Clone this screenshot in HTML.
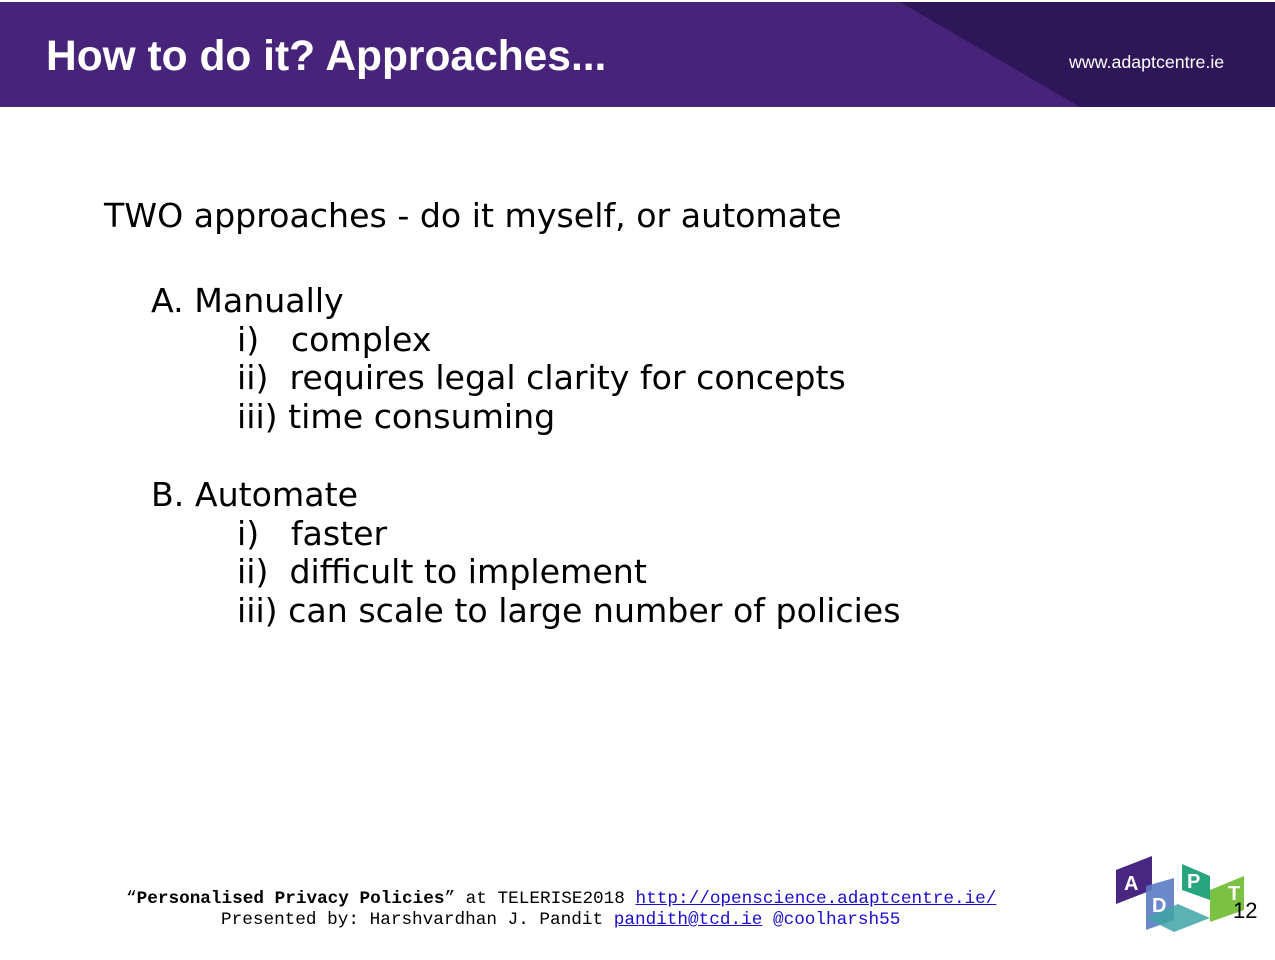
<!DOCTYPE html>
<html><head><meta charset="utf-8"><style>
body{margin:0;width:1275px;height:960px;background:#fff;position:relative;overflow:hidden;font-family:"DejaVu Sans",sans-serif}
.t{position:absolute;font-size:33.2px;color:#000;white-space:pre;line-height:1}
.f{position:absolute;font-family:"Liberation Mono",monospace;font-size:17.7px;white-space:pre;line-height:1;color:#000}
a{color:#1a0dcc;text-decoration:underline}
</style></head><body>
<div style="position:absolute;left:0;top:2px;width:1275px;height:105px;background:#472479">
<svg width="1275" height="105" style="position:absolute;left:0;top:0"><polygon points="900,0 1275,0 1275,105 1080,105" fill="#2e1759"/></svg>
<div style="position:absolute;left:46px;top:34px;font-family:'Liberation Sans',sans-serif;font-weight:bold;font-size:42.5px;color:#fff;line-height:1">How to do it? Approaches...</div>
<div style="position:absolute;left:1069px;top:52px;font-family:'Liberation Sans',sans-serif;font-size:17.8px;color:#fff;line-height:1">www.adaptcentre.ie</div>
</div>
<div class="t" style="left:104px;top:199px">TWO approaches - do it myself, or automate</div>
<div class="t" style="left:151px;top:284px">A. Manually</div>
<div class="t" style="left:237px;top:323px">i)   complex</div>
<div class="t" style="left:237px;top:361px">ii)  requires legal clarity for concepts</div>
<div class="t" style="left:237px;top:400px">iii) time consuming</div>
<div class="t" style="left:151px;top:478px">B. Automate</div>
<div class="t" style="left:237px;top:517px">i)   faster</div>
<div class="t" style="left:237px;top:555px">ii)  difficult to implement</div>
<div class="t" style="left:237px;top:594px">iii) can scale to large number of policies</div>
<div class="f" style="left:126px;top:891px">“<b>Personalised Privacy Policies</b>” at TELERISE2018 <a>http://openscience.adaptcentre.ie/</a></div>
<div class="f" style="left:221px;top:912px">Presented by: Harshvardhan J. Pandit <a>pandith@tcd.ie</a> <span style="color:#1a0dcc">@coolharsh55</span></div>
<svg width="140" height="90" style="position:absolute;left:1110px;top:850px">
<polygon points="6,20 42,6 42,40 6,54" fill="#4a2683"/>
<polygon points="36,36 64,28 64,70 36,80" fill="#5b7cc4" opacity="0.9"/>
<polygon points="36,68 68,54 100,68 64,82" fill="#3fa5a5" opacity="0.85"/>
<polygon points="72,14 100,26 100,50 72,40" fill="#27a57f"/>
<polygon points="100,40 134,26 134,60 100,72" fill="#7cc242"/>
<text x="14" y="40" font-family="Liberation Sans" font-weight="bold" font-size="20" fill="#fff">A</text>
<text x="42" y="62" font-family="Liberation Sans" font-weight="bold" font-size="20" fill="#fff">D</text>
<text x="77" y="38" font-family="Liberation Sans" font-weight="bold" font-size="20" fill="#fff">P</text>
<text x="118" y="50" font-family="Liberation Sans" font-weight="bold" font-size="20" fill="#fff">T</text>
</svg>
<div style="position:absolute;left:1233px;top:900px;font-family:'Liberation Sans',sans-serif;font-size:22px;line-height:1">12</div>
</body></html>
